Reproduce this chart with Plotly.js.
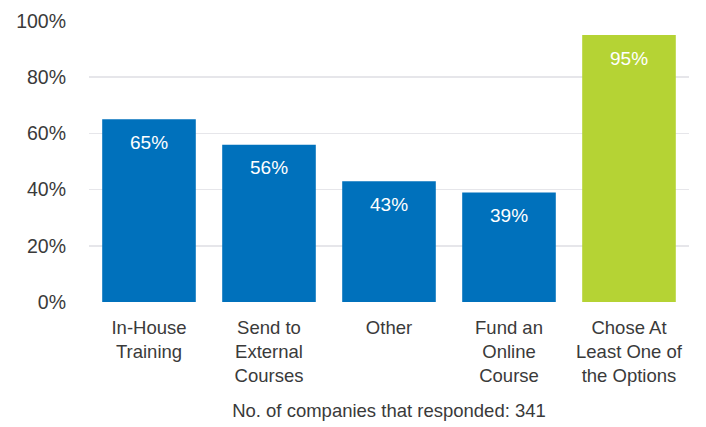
<!DOCTYPE html>
<html><head><meta charset="utf-8">
<script src="https://cdn.plot.ly/plotly-3.0.1.min.js"></script>
<style>html,body{margin:0;padding:0;background:#fff}#chart{width:706px;height:427px}</style>
</head><body><div id="chart"></div>
<script>
const categories = ["In-House<br>Training", "Send to<br>External<br>Courses", "Other", "Fund an<br>Online<br>Course", "Chose At<br>Least One of<br>the Options"];
const values = [65, 56, 43, 39, 95];
const labels = ["65%", "56%", "43%", "39%", "95%"];
const barColors = ["#0071bc", "#0071bc", "#0071bc", "#0071bc", "#b5d334"];
const xTitle = "No. of companies that responded: 341";

const font = "Liberation Sans, Arial, Helvetica, sans-serif";
const trace = {
  type: "bar", x: categories, y: values,
  marker: {color: barColors},
  hoverinfo: "none"
};
const annotations = categories.map((c, i) => ({
  x: c, y: values[i], xref: "x", yref: "y",
  text: labels[i], showarrow: false, yanchor: "middle", yshift: -23,
  font: {family: font, size: 19, color: "#ffffff"}
}));
const layout = {
  width: 706, height: 427,
  margin: {l: 89, r: 17, t: 21, b: 125},
  paper_bgcolor: "#fff", plot_bgcolor: "#fff",
  bargap: 0.22,
  showlegend: false,
  font: {family: font, color: "#3a3a3a"},
  xaxis: {
    tickfont: {family: font, size: 18.5, color: "#3a3a3a"},
    showgrid: false, zeroline: false, showline: false, ticks: "",
    ticklabelstandoff: 12,
    title: {text: xTitle, font: {family: font, size: 18.5, color: "#3a3a3a"}, standoff: 19}
  },
  yaxis: {
    range: [0, 100], tickvals: [0, 20, 40, 60, 80, 100],
    ticktext: ["0%", "20%", "40%", "60%", "80%", "100%"],
    tickfont: {family: font, size: 19.5, color: "#3a3a3a"},
    gridcolor: "#e6e6ea", gridwidth: 1.5, zeroline: false, showline: false,
    ticks: "", ticklabelstandoff: 22
  },
  annotations: annotations
};
Plotly.newPlot("chart", [trace], layout, {displayModeBar: false, staticPlot: true});
</script></body></html>
